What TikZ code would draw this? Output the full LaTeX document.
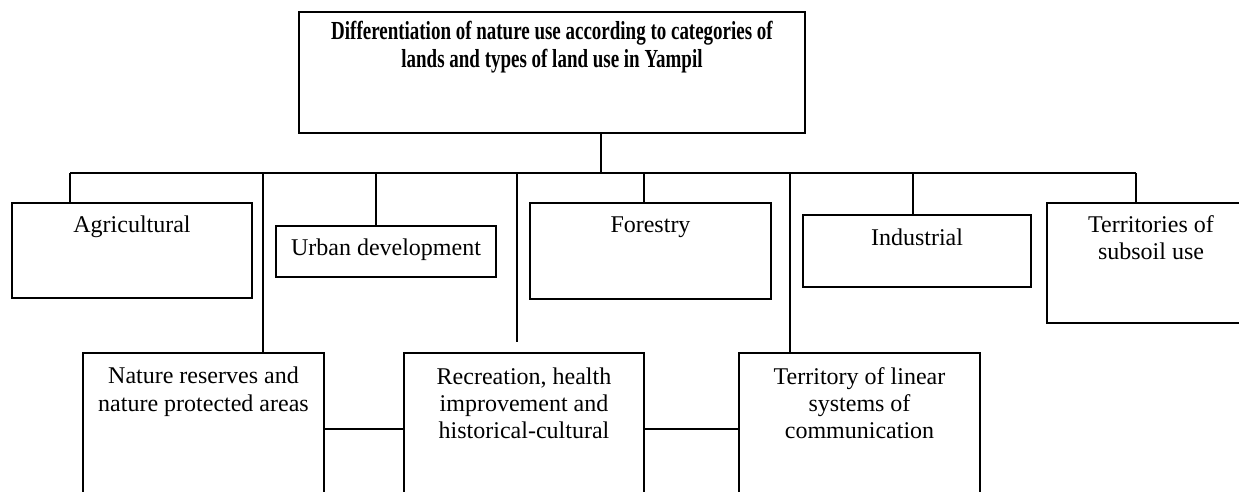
\documentclass[tikz,border=0pt]{standalone}
\usepackage{fontspec}
\setmainfont{Liberation Serif}
\newfontfamily\headfont{Liberation Serif}[FakeStretch=0.73]
\tikzset{
    land box/.style = {draw, line width=1.1pt, align=center, inner sep=0pt, font=\fontsize{12}{13.5}\selectfont},
    head box/.style = {land box, font=\headfont\bfseries\fontsize{13}{14}\selectfont},
    link/.style = {draw, line width=0.8pt},
}

\begin{document}
\begin{tikzpicture}[x=0.5pt, y=-0.5pt]
    \useasboundingbox (0, 0) rectangle (1239, 492);

    \node[head box, minimum width=253pt, text height=28pt, text depth=32.5pt] (land) at (552, 72.5)
        {Differentiation of nature use according to categories of\\ lands and types of land use in Yampil};

    \node[land box, minimum width=120pt, text height=15pt, text depth=32.5pt] (agri) at (132, 250.5) {Agricultural};
    \node[land box, minimum width=110pt, text height=15pt, text depth=10.5pt] (urban) at (386, 251.5) {Urban development};
    \node[land box, minimum width=120.5pt, text height=15pt, text depth=33pt] (forest) at (650.5, 251) {Forestry};
    \node[land box, minimum width=114pt, text height=15.5pt, text depth=20.5pt] (industr) at (917, 251) {Industrial};
    \node[land box, minimum width=104pt, text height=28.5pt, text depth=31.5pt] (subsoil) at (1151, 263) {Territories of\\ subsoil use};

    \node[land box, minimum width=120.5pt, text height=29pt, text depth=47pt] (nature) at (203.5, 429)
        {Nature reserves and\\ nature protected areas};
    \node[land box, minimum width=120pt, text height=42.5pt, text depth=33.5pt] (recre) at (524, 429)
        {Recreation, health\\ improvement and\\ historical-cultural};
    \node[land box, minimum width=120.5pt, text height=42.5pt, text depth=33.5pt] (linear) at (859.5, 429)
        {Territory of linear\\ systems of\\ communication};

    \coordinate (hub) at (601, 173);
    \coordinate (busL) at (70, 173);
    \coordinate (busR) at (1136, 173);
    \coordinate (recre gap) at (517, 342);

    \draw[link] (land.south -| hub) -- (hub);
    \draw[link] (busL) -- (busR);
    \foreach \x/\n in {70/agri, 263/nature, 376/urban, 644/forest, 790/linear, 913/industr, 1136/subsoil}
        \draw[link] (\x, 173) -- (\x, 173 |- \n.north);
    \draw[link] (recre gap |- hub) -- (recre gap);
    \draw[link] (nature) -- (recre) -- (linear);
\end{tikzpicture}
\end{document}
